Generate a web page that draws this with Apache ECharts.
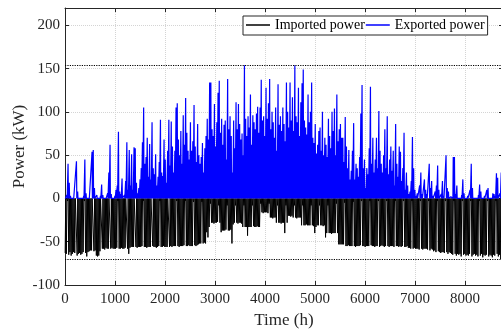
<!DOCTYPE html>
<html><head><meta charset="utf-8">
<script src="https://cdn.jsdelivr.net/npm/echarts@6/dist/echarts.min.js"></script>
<style>html,body{margin:0;padding:0;background:#fff}#c{width:501px;height:336px}</style>
</head><body><div id="c"></div>
<script>
// Daily peak exported power (kW), one value per day, weeks of 7 (Q1..Q4)
const exportQ1 = [
  0, 4, 40, 18, 3, 0, 0,
  0, 2, 43, 8, 0, 0, 2,
  0, 3, 45, 6, 0, 0, 0,
  2, 54, 56, 12, 0, 4, 0,
  0, 3, 16, 4, 0, 0, 0,
  6, 30, 62, 5, 0, 0, 3,
  10, 15, 77, 8, 5, 23, 0,
  4, 20, 65, 10, 56, 15, 51,
  10, 59, 58, 18, 6, 12, 22,
  35, 65, 105, 40, 48, 70, 25,
  63, 22, 88, 35, 28, 51, 15,
  25, 42, 91, 30, 26, 68, 45,
  18, 55, 91, 38, 89, 60, 30
];
const exportQ2 = [
  55, 105, 110, 68, 50, 78, 40,
  96, 62, 116, 76, 55, 45, 88,
  55, 66, 108, 60, 42, 86, 50,
  40, 48, 64, 30, 58, 72, 92,
  68, 134, 134, 80, 72, 109, 60,
  88, 122, 136, 76, 92, 62, 85,
  90, 45, 138, 80, 95, 72, 30,
  90, 58, 111, 80, 109, 86, 68,
  75, 50, 154, 92, 72, 95, 82,
  120, 62, 96, 88, 80, 98, 106,
  76, 105, 137, 90, 95, 72, 128,
  92, 110, 138, 80, 100, 88, 70,
  105, 55, 132, 85, 95, 78, 105
];
const exportQ3 = [
  86, 66, 134, 100, 82, 134, 90,
  117, 78, 154, 95, 88, 128, 72,
  111, 133, 149, 90, 82, 74, 120,
  88, 100, 134, 70, 64, 86, 52,
  62, 78, 82, 55, 100, 50, 70,
  62, 48, 92, 72, 58, 100, 78,
  104, 50, 120, 66, 80, 86, 70,
  70, 42, 94, 60, 35, 56, 22,
  32, 55, 87, 22, 40, 35, 25,
  48, 98, 131, 35, 45, 12, 35,
  28, 58, 129, 40, 70, 30, 45,
  70, 35, 101, 55, 40, 30, 50,
  80, 35, 95, 28, 45, 60, 32
];
const exportQ4 = [
  55, 15, 86, 40, 25, 60, 54,
  20, 35, 76, 10, 30, 15, 5,
  8, 20, 71, 35, 10, 3, 6,
  0, 15, 30, 5, 0, 22, 10,
  5, 0, 40, 12, 20, 3, 0,
  8, 15, 38, 10, 0, 5, 20,
  3, 0, 50, 12, 8, 0, 2,
  0, 48, 48, 5, 15, 2, 0,
  0, 4, 22, 6, 0, 0, 3,
  0, 10, 40, 12, 0, 0, 2,
  0, 4, 16, 8, 0, 0, 3,
  0, 10, 12, 2, 0, 0, 6,
  5, 3, 29, 24, 0, 6, 30,
  12
];
// Daily peak imported power (kW, negative), weeks of 7 (Q1..Q4)
const importQ1 = [
  -63, -64, -3, -65, -62, -66, -64,
  -62, -63, -2, -66, -64, -63, -65,
  -64, -62, -3, -63, -67, -62, -61,
  -60, -60, -2, -61, -60, -66, -67,
  -66, -61, -2, -58, -58, -59, -57,
  -58, -58, -2, -58, -57, -58, -58,
  -58, -57, -3, -58, -58, -57, -58,
  -58, -57, -2, -58, -64, -57, -56,
  -56, -56, -2, -56, -57, -56, -56,
  -56, -55, -3, -56, -56, -57, -56,
  -56, -56, -2, -55, -56, -56, -57,
  -56, -55, -3, -56, -56, -55, -56,
  -56, -56, -2, -56, -55, -56, -55
];
const importQ2 = [
  -55, -55, -3, -55, -56, -55, -55,
  -55, -54, -3, -55, -55, -54, -55,
  -55, -55, -4, -54, -55, -54, -53,
  -52, -52, -4, -52, -51, -52, -39,
  -45, -33, -6, -28, -28, -29, -28,
  -28, -27, -8, -28, -39, -37, -37,
  -37, -36, -8, -37, -37, -36, -52,
  -30, -28, -8, -28, -29, -28, -28,
  -29, -33, -8, -33, -33, -43, -33,
  -33, -33, -8, -32, -33, -33, -32,
  -33, -33, -6, -16, -17, -16, -16,
  -16, -17, -6, -22, -22, -23, -22,
  -22, -28, -8, -28, -28, -29, -28
];
const importQ3 = [
  -28, -40, -8, -28, -20, -20, -21,
  -20, -22, -8, -22, -23, -22, -22,
  -22, -31, -8, -31, -31, -30, -31,
  -31, -31, -8, -31, -32, -40, -33,
  -31, -31, -8, -31, -31, -32, -31,
  -45, -40, -8, -40, -40, -41, -40,
  -40, -40, -6, -40, -53, -53, -53,
  -53, -53, -5, -55, -55, -54, -55,
  -55, -55, -4, -55, -56, -55, -55,
  -55, -54, -3, -55, -55, -56, -55,
  -55, -55, -3, -54, -55, -55, -56,
  -55, -55, -3, -56, -55, -54, -55,
  -56, -55, -3, -55, -56, -55, -55
];
const importQ4 = [
  -55, -56, -3, -55, -55, -56, -55,
  -56, -55, -3, -56, -56, -55, -57,
  -57, -58, -3, -58, -57, -58, -58,
  -58, -59, -3, -58, -59, -58, -58,
  -58, -59, -3, -60, -58, -59, -61,
  -60, -62, -3, -61, -62, -63, -62,
  -62, -63, -3, -62, -64, -62, -63,
  -64, -65, -3, -64, -66, -64, -65,
  -64, -67, -3, -65, -64, -66, -65,
  -66, -64, -3, -67, -65, -64, -66,
  -65, -67, -3, -66, -64, -68, -65,
  -66, -65, -3, -67, -65, -66, -68,
  -65, -66, -3, -64, -67, -65, -70,
  -66
];
const maxExportLevel = 154;
const minImportLevel = -70;
const seriesNames = ['Imported power', 'Exported power'];

const exportDaily = [].concat(exportQ1, exportQ2, exportQ3, exportQ4);
const importDaily = [].concat(importQ1, importQ2, importQ3, importQ4);
const exportPts = [];
const importPts = [];
exportDaily.forEach((v, d) => { const h = d * 24; exportPts.push([h + 6, 0], [h + 13, v], [h + 20, 0]); });
importDaily.forEach((v, d) => { const h = d * 24; importPts.push([h + 3, v], [h + 15, 0]); });

const FONT = 'Liberation Serif';
const AX = '#262626';
const chart = echarts.init(document.getElementById('c'), null, {renderer: 'canvas'});
const xBase = {type: 'value', min: 0, max: 8760, interval: 1000,
  axisLine: {show: true, onZero: false, lineStyle: {color: AX, width: 1}},
  axisTick: {show: true, inside: true, length: 4, lineStyle: {color: AX}}};
const yBase = {type: 'value', min: -100, max: 220, interval: 50,
  axisLine: {show: true, onZero: false, lineStyle: {color: AX, width: 1}},
  axisTick: {show: true, inside: true, length: 4, lineStyle: {color: AX}}};
chart.setOption({
  animation: false,
  backgroundColor: '#fff',
  grid: {left: 65, top: 8, width: 438, height: 277, containLabel: false, outerBoundsMode: 'none'},
  legend: {
    data: [{name: seriesNames[0], icon: 'rect'}, {name: seriesNames[1], icon: 'rect'}],
    left: 243, top: 16, padding: [2, 3, 3, 3],
    itemWidth: 24, itemHeight: 1.5, itemGap: 1,
    textStyle: {fontFamily: FONT, fontSize: 14, color: '#000'},
    borderColor: AX, borderWidth: 1, backgroundColor: '#fff'
  },
  xAxis: [
    Object.assign({}, xBase, {position: 'bottom',
      name: 'Time (h)', nameLocation: 'middle', nameGap: 27, nameMoveOverlap: false,
      nameTextStyle: {fontFamily: FONT, fontSize: 17, color: AX},
      axisLabel: {fontFamily: FONT, fontSize: 15, color: AX, margin: 7,
        formatter: v => (v % 1000 === 0 ? String(v) : '')},
      splitLine: {show: true, lineStyle: {color: '#d4d4d4', type: 'dotted', width: 1}}}),
    Object.assign({}, xBase, {position: 'top', axisLabel: {show: false}, splitLine: {show: false}})
  ],
  yAxis: [
    Object.assign({}, yBase, {position: 'left',
      name: 'Power (kW)', nameLocation: 'middle', nameGap: 37, nameRotate: 90, nameMoveOverlap: false,
      nameTextStyle: {fontFamily: FONT, fontSize: 17, color: AX},
      axisLabel: {fontFamily: FONT, fontSize: 15, color: AX, margin: 5,
        formatter: v => (v % 50 === 0 ? String(v) : '')},
      splitLine: {show: true, lineStyle: {color: '#d4d4d4', type: 'dotted', width: 1}}}),
    Object.assign({}, yBase, {position: 'right', axisLabel: {show: false}, splitLine: {show: false}})
  ],
  series: [
    {name: seriesNames[0], type: 'line', data: importPts, showSymbol: false, symbol: 'none',
      lineStyle: {color: '#000', width: 1}, itemStyle: {color: '#000'},
      markLine: {silent: true, symbol: ['none', 'none'], label: {show: false},
        lineStyle: {color: '#000', type: 'dotted', width: 1.2},
        data: [{yAxis: maxExportLevel}, {yAxis: minImportLevel}]}},
    {name: seriesNames[1], type: 'line', data: exportPts, showSymbol: false, symbol: 'none',
      lineStyle: {color: '#0000ff', width: 1.2}, itemStyle: {color: '#0000ff'}}
  ]
});
</script></body></html>
